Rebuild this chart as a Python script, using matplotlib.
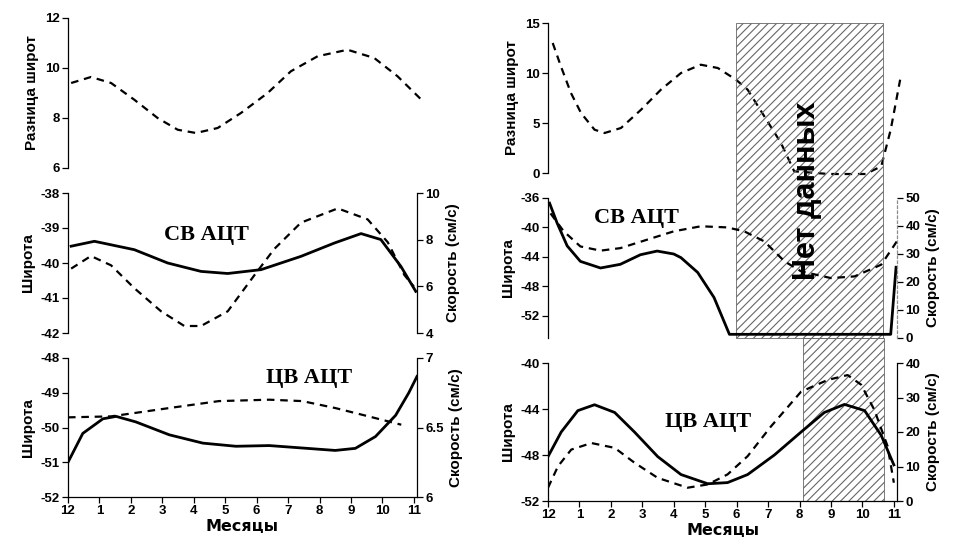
import matplotlib
matplotlib.use("Agg")
import matplotlib.pyplot as plt
from matplotlib.patches import Rectangle
from matplotlib.transforms import blended_transform_factory

# ---------------- data ----------------
month_labels = ['12', '1', '2', '3', '4', '5', '6', '7', '8', '9', '10', '11']
month_pos = list(range(12))

# Left column (first region)
L_top_x = [0.1, 0.73, 1.37, 2.11, 2.85, 3.49, 4.07, 4.76, 5.5, 6.35, 7.09, 7.94, 8.89, 9.74, 10.48, 11.29]
L_top_y = [9.4, 9.64, 9.4, 8.73, 8.0, 7.53, 7.4, 7.6, 8.2, 9.0, 9.87, 10.47, 10.73, 10.4, 9.67, 8.67]

L_mid_lat_x = [0.1, 0.84, 2.11, 3.17, 4.23, 5.08, 6.14, 7.41, 8.47, 9.32, 9.95, 10.59, 11.06]
L_mid_lat_y = [-39.52, -39.38, -39.62, -40.0, -40.24, -40.3, -40.19, -39.81, -39.43, -39.16, -39.33, -40.1, -40.81]
L_mid_spd_x = [0.1, 0.73, 1.37, 2.11, 2.96, 3.7, 4.23, 5.08, 5.93, 6.56, 7.41, 8.58, 9.53, 10.17, 10.7, 11.0]
L_mid_spd_y = [6.76, 7.3, 6.9, 5.92, 4.93, 4.3, 4.3, 4.93, 6.48, 7.6, 8.73, 9.34, 8.87, 7.89, 6.48, 5.99]

L_bot_lat_x = [0.0, 0.47, 1.11, 1.53, 2.16, 3.22, 4.29, 5.34, 6.4, 7.45, 8.5, 9.14, 9.78, 10.42, 10.84, 11.1]
L_bot_lat_y = [-51.0, -50.17, -49.75, -49.68, -49.84, -50.21, -50.45, -50.54, -50.52, -50.59, -50.66, -50.6, -50.26, -49.65, -49.0, -48.53]
L_bot_spd_x = [0.0, 1.37, 3.22, 4.8, 6.4, 7.45, 8.5, 9.56, 10.6]
L_bot_spd_y = [6.573, 6.58, 6.64, 6.69, 6.70, 6.69, 6.64, 6.58, 6.52]

# Right column (second region)
R_top_x = [0.15, 0.41, 0.73, 1.05, 1.48, 1.8, 2.32, 2.96, 3.59, 4.23, 4.86, 5.4, 5.98, 6.35, 6.88, 7.41, 7.83, 8.93, 10.1, 10.6, 10.9, 11.2]
R_top_y = [13.0, 10.67, 8.0, 6.0, 4.33, 4.0, 4.5, 6.33, 8.33, 10.0, 10.83, 10.5, 9.33, 8.33, 5.67, 3.0, 0.17, -0.1, -0.1, 0.67, 4.33, 9.33]

R_mid_lat_x = [0.05, 0.29, 0.61, 1.03, 1.67, 2.3, 2.94, 3.47, 4.0, 4.23, 4.76, 5.28, 5.77, 10.9, 11.07]
R_mid_lat_y = [-36.7, -39.4, -42.5, -44.6, -45.5, -45.0, -43.7, -43.2, -43.6, -44.1, -46.1, -49.5, -54.5, -54.5, -45.4]
R_mid_spd_x = [0.08, 0.5, 1.03, 1.67, 2.3, 3.15, 4.0, 4.86, 5.7, 6.24, 6.88, 7.52, 8.05, 9.0, 9.75, 10.6, 11.13]
R_mid_spd_y = [44.5, 38.1, 32.7, 31.2, 32.1, 35.1, 38.1, 39.9, 39.5, 38.1, 34.5, 27.4, 23.8, 21.4, 22.0, 26.2, 35.1]

R_bot_lat_x = [0.0, 0.42, 0.95, 1.48, 2.12, 2.75, 3.49, 4.23, 5.08, 5.71, 6.35, 7.2, 8.05, 8.79, 9.43, 10.07, 10.6, 11.0]
R_bot_lat_y = [-48.14, -46.0, -44.14, -43.63, -44.3, -46.0, -48.14, -49.7, -50.5, -50.4, -49.7, -48.0, -46.0, -44.3, -43.6, -44.14, -46.3, -48.86]
R_bot_spd_x = [0.0, 0.32, 0.74, 1.38, 2.12, 2.75, 3.49, 4.44, 5.08, 5.71, 6.35, 7.09, 8.05, 8.9, 9.53, 9.96, 10.38, 10.8, 11.0]
R_bot_spd_y = [3.85, 10.1, 14.9, 16.8, 15.4, 11.1, 6.7, 3.85, 4.8, 7.7, 13.0, 21.6, 31.7, 35.1, 36.5, 33.7, 26.4, 15.9, 5.3]

no_data_top = (5.97, 10.67)   # months without data (upper two panels)
no_data_bot = (8.1, 10.68)    # months without data (lower panel)

# ---------------- style ----------------
plt.rcParams['font.family'] = ['Liberation Sans', 'DejaVu Sans']
plt.rcParams['font.weight'] = 'bold'
plt.rcParams['axes.unicode_minus'] = False
plt.rcParams['hatch.linewidth'] = 0.8
plt.rcParams['lines.solid_joinstyle'] = 'round'
plt.rcParams['lines.dash_joinstyle'] = 'round'
TICK_FS = 9.5
LAB_FS = 11
SERIF = ['Liberation Serif', 'DejaVu Serif']
DASH = (0, (3.4, 2.6))

W, H = 954, 544
fig = plt.figure(figsize=(W / 100, H / 100), dpi=100)

def pos(x0, x1, y0, y1):
    return [x0 / W, 1 - y1 / H, (x1 - x0) / W, (y1 - y0) / H]

XL = (68, 417)
XR = (548, 897)

def style_left(ax, bottom=False):
    ax.patch.set_visible(False)
    for s in ['top', 'right']:
        ax.spines[s].set_visible(False)
    ax.spines['bottom'].set_visible(bottom)
    ax.set_xlim(0, 11.1)
    ax.tick_params(axis='y', direction='out', length=4, width=0.9, labelsize=TICK_FS, pad=2)
    if bottom:
        ax.set_xticks(month_pos)
        ax.set_xticklabels(month_labels)
        ax.tick_params(axis='x', direction='out', length=4, width=0.9, labelsize=TICK_FS, pad=2)
        ax.set_xlabel('Месяцы', fontsize=11.5, fontweight='bold', family=['DejaVu Sans'], labelpad=1)
    else:
        ax.set_xticks([])
    for s in ax.spines.values():
        s.set_linewidth(0.9)

def style_right(ax2):
    ax2.patch.set_visible(False)
    for s in ['top', 'left', 'bottom']:
        ax2.spines[s].set_visible(False)
    ax2.spines['right'].set_linewidth(0.9)
    ax2.tick_params(axis='y', direction='out', length=4, width=0.9, labelsize=TICK_FS, pad=2)

def panel_set(xr, rows):
    return [fig.add_axes(pos(xr[0], xr[1], y0, y1)) for (y0, y1) in rows]

# ---------------- left column ----------------
la_top, la_mid, la_bot = panel_set(XL, [(18, 168), (193, 333), (358, 497)])

style_left(la_top)
la_top.plot(L_top_x, L_top_y, color='black', lw=1.6, ls=DASH, clip_on=False)
la_top.set_ylim(6, 12)
la_top.set_yticks([6, 8, 10, 12])
la_top.set_ylabel('Разница широт', fontsize=LAB_FS, fontweight='bold')

style_left(la_mid)
la_mid.plot(L_mid_lat_x, L_mid_lat_y, color='black', lw=2.0)
la_mid.set_ylim(-42, -38)
la_mid.set_yticks([-42, -41, -40, -39, -38])
la_mid.set_ylabel('Широта', fontsize=LAB_FS, fontweight='bold')
la_mid.text(4.39, -39.19, 'СВ АЦТ', family=SERIF, fontsize=16, fontweight='bold', ha='center', va='center')
lm2 = la_mid.twinx()
style_right(lm2)
lm2.plot(L_mid_spd_x, L_mid_spd_y, color='black', lw=1.6, ls=DASH)
lm2.set_ylim(4, 10)
lm2.set_yticks([4, 6, 8, 10])
lm2.set_ylabel('Скорость (см/с)', fontsize=LAB_FS, fontweight='bold')

style_left(la_bot, bottom=True)
la_bot.plot(L_bot_lat_x, L_bot_lat_y, color='black', lw=2.0)
la_bot.set_ylim(-52, -48)
la_bot.set_yticks([-52, -51, -50, -49, -48])
la_bot.set_ylabel('Широта', fontsize=LAB_FS, fontweight='bold')
la_bot.text(7.66, -48.57, 'ЦВ АЦТ', family=SERIF, fontsize=16, fontweight='bold', ha='center', va='center')
lb2 = la_bot.twinx()
style_right(lb2)
lb2.plot(L_bot_spd_x, L_bot_spd_y, color='black', lw=1.6, ls=DASH)
lb2.set_ylim(6, 7)
lb2.set_yticks([6, 6.5, 7])
lb2.set_yticklabels(['6', '6.5', '7'])
lb2.set_ylabel('Скорость (см/с)', fontsize=LAB_FS, fontweight='bold')

# ---------------- right column ----------------
ra_top, ra_mid, ra_bot = panel_set(XR, [(23, 173), (198, 338), (363, 501)])

style_left(ra_top)
ra_top.plot(R_top_x, R_top_y, color='black', lw=1.6, ls=DASH, clip_on=False)
ra_top.set_ylim(0, 15)
ra_top.set_yticks([0, 5, 10, 15])
ra_top.set_ylabel('Разница широт', fontsize=LAB_FS, fontweight='bold')

style_left(ra_mid)
ra_mid.plot(R_mid_lat_x, R_mid_lat_y, color='black', lw=2.0, clip_on=False)
ra_mid.set_ylim(-55, -36)
ra_mid.set_yticks([-52, -48, -44, -40, -36])
ra_mid.set_ylabel('Широта', fontsize=LAB_FS, fontweight='bold')
ra_mid.text(2.8, -38.66, 'СВ АЦТ', family=SERIF, fontsize=16, fontweight='bold', ha='center', va='center')
rm2 = ra_mid.twinx()
style_right(rm2)
rm2.spines['right'].set_color('0.55')
rm2.spines['right'].set_linestyle((0, (2, 2)))
rm2.plot(R_mid_spd_x, R_mid_spd_y, color='black', lw=1.6, ls=DASH, clip_on=False)
rm2.set_ylim(0, 50)
rm2.set_yticks([0, 10, 20, 30, 40, 50])
rm2.set_ylabel('Скорость (см/с)', fontsize=LAB_FS, fontweight='bold')

style_left(ra_bot, bottom=True)
ra_bot.plot(R_bot_lat_x, R_bot_lat_y, color='black', lw=2.0)
ra_bot.set_ylim(-52, -40)
ra_bot.set_yticks([-52, -48, -44, -40])
ra_bot.set_ylabel('Широта', fontsize=LAB_FS, fontweight='bold')
ra_bot.text(5.09, -45.14, 'ЦВ АЦТ', family=SERIF, fontsize=16, fontweight='bold', ha='center', va='center')
rb2 = ra_bot.twinx()
style_right(rb2)
rb2.plot(R_bot_spd_x, R_bot_spd_y, color='black', lw=1.6, ls=DASH)
rb2.set_ylim(0, 40)
rb2.set_yticks([0, 10, 20, 30, 40])
rb2.set_ylabel('Скорость (см/с)', fontsize=LAB_FS, fontweight='bold')

# ---------------- "no data" hatched regions ----------------
pt = ra_top.get_position()
pm = ra_mid.get_position()
pb = ra_bot.get_position()
h_upper = (pt.y1 - pm.y0) / pm.height
h_lower = (pm.y0 - pb.y0) / pb.height

tr_m = blended_transform_factory(ra_mid.transData, ra_mid.transAxes)
ra_mid.add_patch(Rectangle((no_data_top[0], 0), no_data_top[1] - no_data_top[0], h_upper,
                           transform=tr_m, fill=False, hatch='////', edgecolor='0.4',
                           lw=0.6, clip_on=False, zorder=0.5))
tr_b = blended_transform_factory(ra_bot.transData, ra_bot.transAxes)
ra_bot.add_patch(Rectangle((no_data_bot[0], 0), no_data_bot[1] - no_data_bot[0], h_lower,
                           transform=tr_b, fill=False, hatch='////', edgecolor='0.4',
                           lw=0.6, clip_on=False, zorder=0.5))

ra_mid.text(8.25, 1.05, 'Нет данных', transform=tr_m, rotation=90, fontsize=22,
            fontweight='bold', ha='center', va='center', clip_on=False)

fig.savefig('out.png', dpi=100)
